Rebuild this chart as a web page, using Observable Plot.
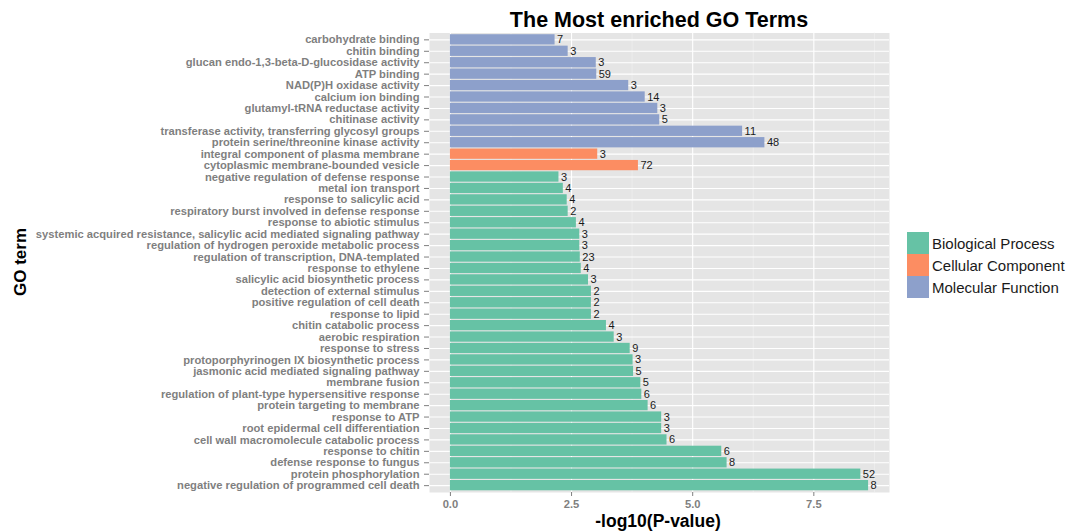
<!DOCTYPE html>
<html><head><meta charset="utf-8">
<script src="https://cdn.jsdelivr.net/npm/d3@7"></script>
<script src="https://cdn.jsdelivr.net/npm/@observablehq/plot@0.6"></script>
<style>
body{margin:0;background:#fff;font-family:"Liberation Sans",Arial,Helvetica,sans-serif;}
#wrap{position:relative;width:1082px;height:531px;overflow:hidden;background:#fff;}
#title{position:absolute;left:429px;width:460px;top:10px;text-align:center;font-weight:bold;font-size:21.5px;line-height:21.5px;color:#000;white-space:nowrap;}
#chart{position:absolute;left:0;top:30px;width:900px;height:501px;}
#chart svg{display:block;}
#ylab{position:absolute;left:20px;top:262px;transform:translate(-50%,-50%) rotate(-90deg);font-weight:bold;font-size:17px;line-height:17px;white-space:nowrap;color:#000;}
#xlab{position:absolute;left:658px;top:513.8px;transform:translateX(-50%);font-weight:bold;font-size:17.5px;line-height:14px;white-space:nowrap;color:#000;}
#legend{position:absolute;left:907px;top:232px;}
.lrow{display:flex;align-items:center;height:22px;}
.lkey{width:22px;height:22px;margin-right:3px;}
.ltxt{font-size:15px;color:#1a1a1a;white-space:nowrap;}
</style>
</head><body>
<div id="wrap">
  <div id="title">The Most enriched GO Terms</div>
  <div id="chart"></div>
  <div id="ylab">GO term</div>
  <div id="xlab">-log10(P-value)</div>
  <div id="legend"></div>
</div>
<script>
const categories = ["Biological Process", "Cellular Component", "Molecular Function"];
const categoryColors = ["#66C2A5", "#FC8D62", "#8DA0CB"];

const terms = [
  "carbohydrate binding",
  "chitin binding",
  "glucan endo-1,3-beta-D-glucosidase activity",
  "ATP binding",
  "NAD(P)H oxidase activity",
  "calcium ion binding",
  "glutamyl-tRNA reductase activity",
  "chitinase activity",
  "transferase activity, transferring glycosyl groups",
  "protein serine/threonine kinase activity",
  "integral component of plasma membrane",
  "cytoplasmic membrane-bounded vesicle",
  "negative regulation of defense response",
  "metal ion transport",
  "response to salicylic acid",
  "respiratory burst involved in defense response",
  "response to abiotic stimulus",
  "systemic acquired resistance, salicylic acid mediated signaling pathway",
  "regulation of hydrogen peroxide metabolic process",
  "regulation of transcription, DNA-templated",
  "response to ethylene",
  "salicylic acid biosynthetic process",
  "detection of external stimulus",
  "positive regulation of cell death",
  "response to lipid",
  "chitin catabolic process",
  "aerobic respiration",
  "response to stress",
  "protoporphyrinogen IX biosynthetic process",
  "jasmonic acid mediated signaling pathway",
  "membrane fusion",
  "regulation of plant-type hypersensitive response",
  "protein targeting to membrane",
  "response to ATP",
  "root epidermal cell differentiation",
  "cell wall macromolecule catabolic process",
  "response to chitin",
  "defense response to fungus",
  "protein phosphorylation",
  "negative regulation of programmed cell death"
];

const termCategory = [
  "Molecular Function","Molecular Function","Molecular Function","Molecular Function","Molecular Function",
  "Molecular Function","Molecular Function","Molecular Function","Molecular Function","Molecular Function",
  "Cellular Component","Cellular Component",
  "Biological Process","Biological Process","Biological Process","Biological Process","Biological Process",
  "Biological Process","Biological Process","Biological Process","Biological Process","Biological Process",
  "Biological Process","Biological Process","Biological Process","Biological Process","Biological Process",
  "Biological Process","Biological Process","Biological Process","Biological Process","Biological Process",
  "Biological Process","Biological Process","Biological Process","Biological Process","Biological Process",
  "Biological Process","Biological Process","Biological Process"
];

const negLog10P = [
  2.16, 2.43, 3.01, 3.02, 3.68, 4.02, 4.28, 4.32, 6.03, 6.49,
  3.04, 3.88,
  2.24, 2.33, 2.41, 2.43, 2.60, 2.67, 2.67, 2.68, 2.70, 2.85,
  2.91, 2.91, 2.91, 3.22, 3.38, 3.71, 3.77, 3.78, 3.93, 3.95,
  4.08, 4.36, 4.36, 4.47, 5.60, 5.71, 8.47, 8.63
];

const geneCounts = [
  7, 3, 3, 59, 3, 14, 3, 5, 11, 48,
  3, 72,
  3, 4, 4, 2, 4, 3, 3, 23, 4, 3,
  2, 2, 2, 4, 3, 9, 3, 5, 5, 6,
  6, 3, 3, 6, 6, 8, 52, 8
];

const xTicks = [0, 2.5, 5, 7.5];
const xMinorTicks = [1.25, 3.75, 6.25, 8.75];

const data = terms.map((t, i) => ({term: t, category: termCategory[i], value: negLog10P[i], count: geneCounts[i]}));

const maxV = d3.max(negLog10P);
const pad = maxV * 0.05;

const chart = Plot.plot({
  width: 900,
  height: 501,
  marginLeft: 429,
  marginRight: 11,
  marginTop: 2.5,
  marginBottom: 39,
  style: {background: "transparent", fontFamily: "'Liberation Sans', Arial, Helvetica, sans-serif", overflow: "visible"},
  x: {domain: [-pad, maxV + pad]},
  y: {domain: terms, paddingInner: 0.1, paddingOuter: 0.15, round: false},
  color: {domain: categories, range: categoryColors},
  marks: [
    Plot.frame({fill: "#E5E5E5", stroke: null}),
    Plot.gridX(xMinorTicks, {stroke: "#F2F2F2", strokeOpacity: 1, strokeWidth: 0.6}),
    Plot.gridX(xTicks, {stroke: "#FFFFFF", strokeOpacity: 1, strokeWidth: 1.1}),
    Plot.gridY({stroke: "#FFFFFF", strokeOpacity: 1, strokeWidth: 1.1}),
    Plot.barX(data, {x: "value", y: "term", fill: "category"}),
    Plot.text(data, {x: "value", y: "term", text: d => String(d.count), textAnchor: "start", dx: 2, fontSize: 11, fill: "#1a1a1a"}),
    Plot.axisX({ticks: xTicks, tickFormat: d3.format(".1f"), tickSize: 4, tickPadding: 4, color: "#7F7F7F", fontWeight: "bold", fontSize: 11.2, label: null}),
    Plot.axisY({tickSize: 5, tickPadding: 5, color: "#7F7F7F", fontWeight: "bold", fontSize: 11.2, label: null})
  ]
});
document.getElementById("chart").appendChild(chart);

const legend = document.getElementById("legend");
categories.forEach((c, i) => {
  const row = document.createElement("div");
  row.className = "lrow";
  const key = document.createElement("div");
  key.className = "lkey";
  key.style.background = categoryColors[i];
  const txt = document.createElement("div");
  txt.className = "ltxt";
  txt.textContent = c;
  row.appendChild(key);
  row.appendChild(txt);
  legend.appendChild(row);
});
</script>
</body></html>
